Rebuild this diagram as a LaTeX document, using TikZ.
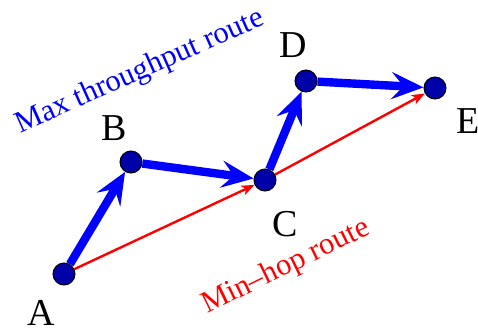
\documentclass[tikz,border=0pt]{standalone}
\usepackage{fontspec}
\setmainfont{Liberation Serif}
\usepackage{tikz}
\usetikzlibrary{arrows.meta,backgrounds}
\definecolor{nodeblue}{HTML}{0000A8}
\tikzset{
  hop/.style={circle, draw=black, line width=0.5pt, fill=nodeblue, minimum size=11pt, inner sep=0pt},
  letter/.style={font=\fontsize{19}{22}\selectfont, inner sep=0pt},
  routelabel/.style={font=\fontsize{15.3}{18}\selectfont, inner sep=0pt},
  maxroute/.style={-{Stealth[length=16pt, width=13.5pt, inset=6pt]}, line width=4.2pt, draw=blue},
  minroute/.style={-{Stealth[length=6.5pt, width=5pt, inset=1.8pt]}, line width=1.2pt, draw=red}
}
\begin{document}
\begin{tikzpicture}[x=0.5pt, y=-0.5pt]
  \useasboundingbox (0,0) rectangle (478,333);

  % routers
  \node[hop] (A) at (64,274) {};
  \node[hop] (B) at (131,162) {};
  \node[hop] (C) at (265,180) {};
  \node[hop] (D) at (306,81) {};
  \node[hop] (E) at (435,88) {};

  \node[letter] (lA) at (41,313) {A};
  \node[letter] (lB) at (114,128) {B};
  \node[letter] (lC) at (285,224) {C};
  \node[letter] (lD) at (293,45) {D};
  \node[letter] (lE) at (468,121) {E};

  \node[routelabel, text=blue, rotate=24] (maxlabel) at (140,72) {Max throughput route};
  \node[routelabel, text=red, rotate=26] (minlabel) at (286,267) {Min--hop route};

  \begin{scope}[on background layer]
    \draw[minroute] (A) -- (C);
    \draw[minroute] (C) -- (E);
    \draw[maxroute] (A) -- (B);
    \draw[maxroute] (B) -- (C);
    \draw[maxroute] (C) -- (D);
    \draw[maxroute] (D) -- (E);
  \end{scope}
\end{tikzpicture}
\end{document}
